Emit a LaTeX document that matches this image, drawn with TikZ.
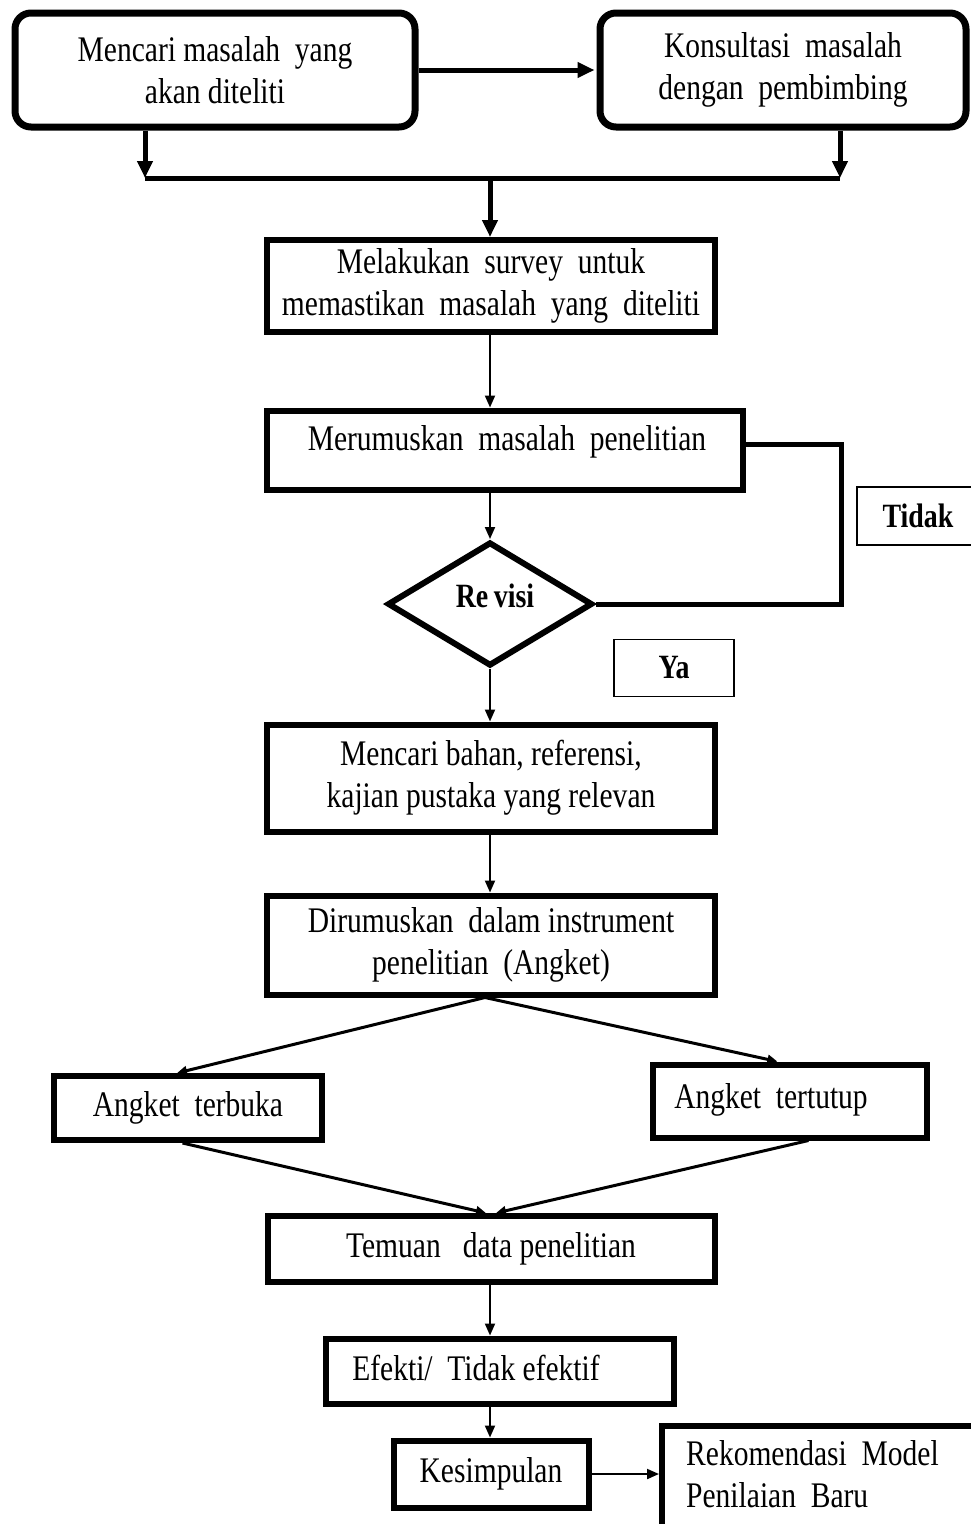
\documentclass[tikz,border=0pt]{standalone}
\usepackage{fontspec}
\setmainfont[FakeStretch=0.82]{Liberation Serif}
\usetikzlibrary{arrows.meta,shapes.geometric,calc}
\begin{document}
\begin{tikzpicture}[x=1pt,y=-1pt,
  box/.style={draw,line width=6pt,inner sep=0pt,align=center,font=\fontsize{36}{42}\selectfont},
  rbox/.style={box,rounded corners=16pt,line width=7pt},
  lbl/.style={draw,line width=1.5pt,inner sep=0pt,font=\bfseries\fontsize{34}{36}\selectfont},
  txt/.style={inner sep=0pt,align=left,font=\fontsize{36}{42}\selectfont},
  thinarr/.style={line width=2pt,-{Triangle[length=12pt,width=10pt]}},
  thickarr/.style={line width=5pt,-{Triangle[length=17pt,width=15pt]}},
  slant/.style={line width=3pt,-{Triangle[length=10pt,width=9pt]}}]
\useasboundingbox (0,0) rectangle (971,1524);
\clip (0,0) rectangle (971,1524);
% top boxes
\node[rbox,minimum width=400pt,minimum height=114pt] (A) at (215,70) {Mencari masalah\ \ yang\\akan diteliti};
\node[rbox,minimum width=366pt,minimum height=114pt] (B) at (783,70) {Konsultasi\ \ masalah\\dengan\ \ pembimbing};
\draw[thickarr,shorten >=2pt] (A.east) -- (B.west);
\coordinate (jl) at (145,178);
\coordinate (jr) at (840,178);
\coordinate (jm) at (490,178);
\draw[thickarr] (A.south -| jl) -- (jl);
\draw[thickarr] (B.south -| jr) -- (jr);
\draw[line width=5pt] (jl) -- (jr);
% survey
\node[box,minimum width=448pt,minimum height=92pt] (C) at (491,286) {Melakukan\ \ survey\ \ untuk\\memastikan\ \ masalah\ \ yang\ \ diteliti};
\draw[thickarr] (jm) -- (C.north -| jm);
% merumuskan
\node[box,minimum width=476pt,minimum height=79pt] (D) at (505,450) {};
\node[txt] (Dt) at (507,442) {Merumuskan\ \ masalah\ \ penelitian};
\draw[thinarr] (C.south -| jm) -- (D.north -| jm);
% revisi
\node[diamond,draw,line width=6pt,minimum width=205pt,minimum height=124pt,inner sep=0pt] (R) at (490,604) {};
\node[inner sep=0pt,font=\bfseries\fontsize{34}{36}\selectfont] (Rt) at (495,596) {Re\,visi};
\draw[thinarr] (D.south -| jm) -- (R.north);
\coordinate (fb) at (841,0);
\draw[line width=5pt] (D.east |- 0,444) -- (fb |- 0,444) -- (fb |- R.east) -- (R.east);
\node[lbl,minimum width=122pt,minimum height=58pt] (T) at (918,516) {Tidak};
\node[lbl,minimum width=120pt,minimum height=57pt] (Y) at (674,668) {Ya};
% bahan
\node[box,minimum width=448pt,minimum height=107pt] (E) at (491,778) {Mencari bahan, referensi,\\kajian pustaka yang relevan};
\draw[thinarr] (R.south) -- (E.north -| R.south);
% instrument
\node[box,minimum width=448pt,minimum height=99pt] (F) at (491,945) {Dirumuskan\ \ dalam instrument\\penelitian\ \ (Angket)};
\draw[thinarr] (E.south -| jm) -- (F.north -| jm);
% angket
\node[box,minimum width=268pt,minimum height=64pt] (G) at (188,1108) {Angket\ \ terbuka};
\node[box,minimum width=274pt,minimum height=73pt] (H) at (790,1101) {};
\node[txt] (Ht) at (771,1100) {Angket\ \ tertutup};
\draw[slant] ($(F.south)+(-6,0)$) -- ($(G.north west)!0.46!(G.north east)$);
\draw[slant] ($(F.south)+(-6,0)$) -- ($(H.north west)!0.455!(H.north east)$);
% temuan
\node[box,minimum width=447pt,minimum height=66pt] (I) at (491,1249) {Temuan\ \ \ data penelitian};
\draw[slant] ($(G.south west)!0.48!(G.south east)$) -- ($(I.north)+(-5,0)$);
\draw[slant] ($(H.south west)!0.566!(H.south east)$) -- ($(I.north)+(5,0)$);
% efekti
\node[box,minimum width=348pt,minimum height=65pt] (J) at (500,1371) {};
\node[txt] (Jt) at (476,1368) {Efekti/\ \ Tidak efektif};
\draw[thinarr] (I.south -| jm) -- (J.north -| jm);
% kesimpulan
\node[box,minimum width=195pt,minimum height=67pt] (K) at (491,1474) {Kesimpulan};
\draw[thinarr] (J.south -| jm) -- (K.north -| jm);
% rekomendasi
\node[box,minimum width=356pt,minimum height=128pt] (L) at (840,1490) {};
\node[txt,anchor=north west] (Lt) at (686,1440) {Rekomendasi\ \ Model\\Penilaian\ \ Baru};
\draw[thinarr] (K.east) -- (L.west |- K.east);
\end{tikzpicture}
\end{document}
